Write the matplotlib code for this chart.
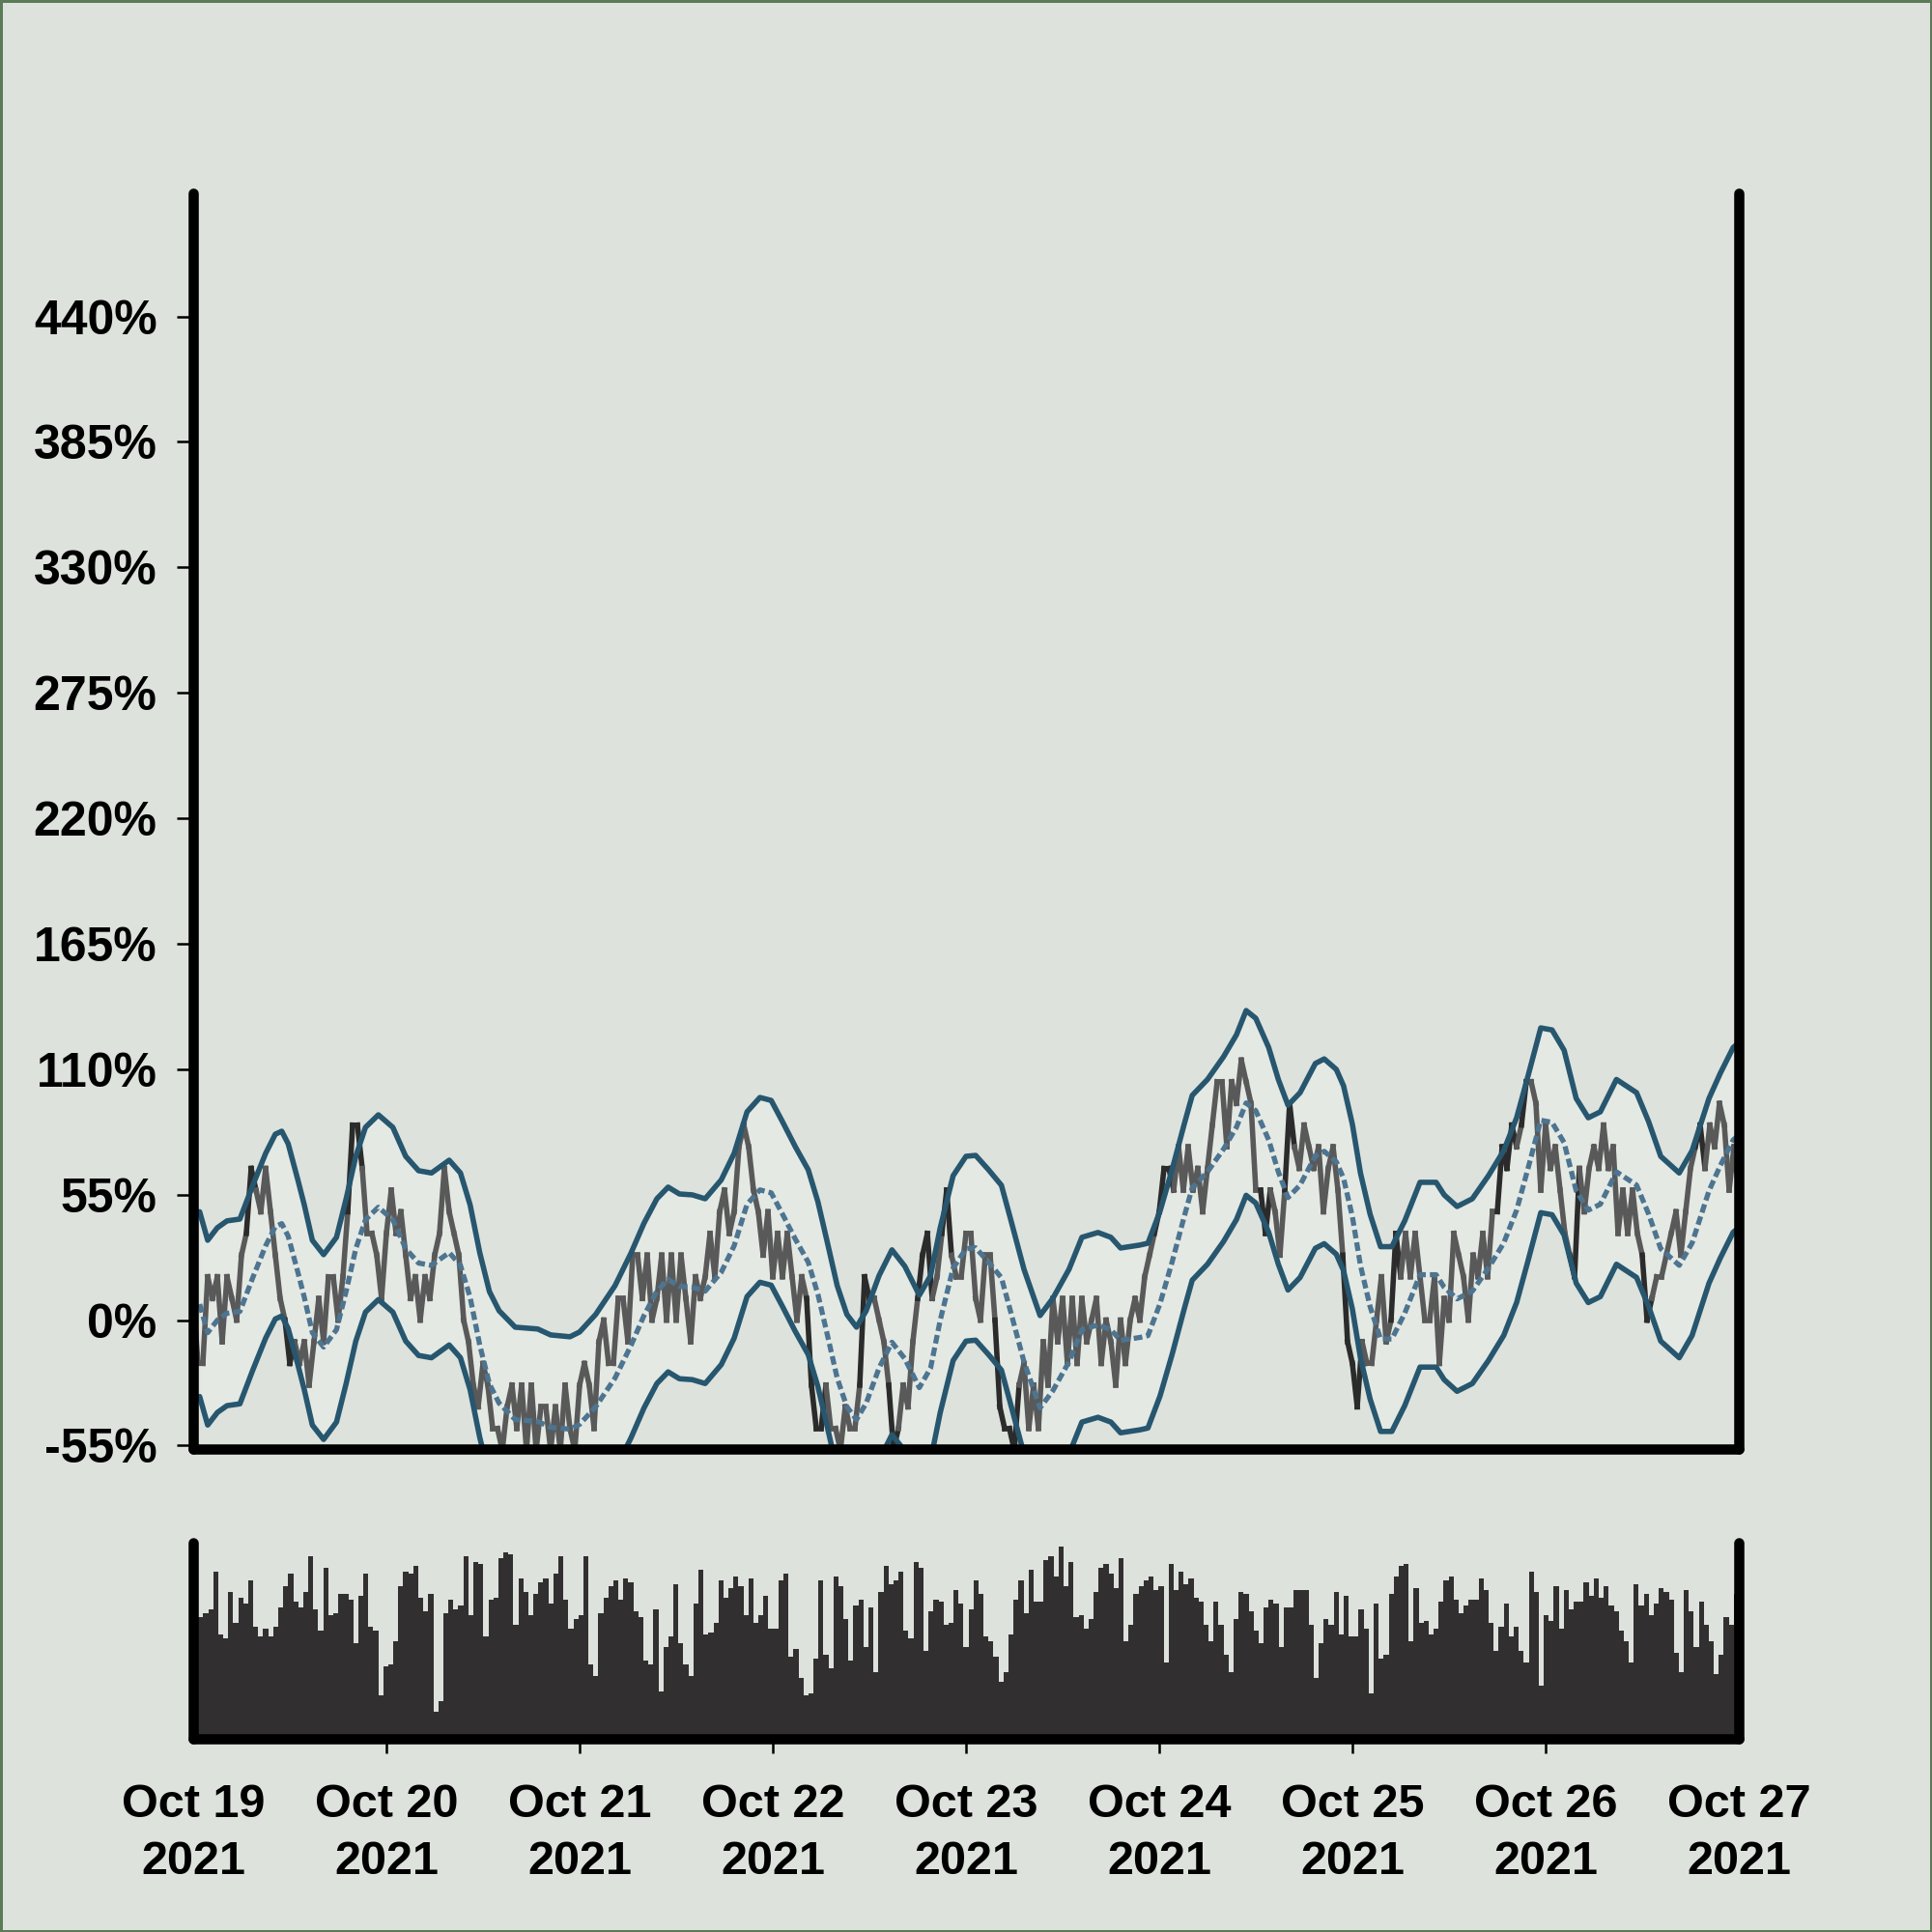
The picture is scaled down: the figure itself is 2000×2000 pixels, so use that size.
import numpy as np
import pandas as pd
import matplotlib
matplotlib.use("Agg")
import matplotlib.pyplot as plt
import matplotlib.dates as mdates
from matplotlib.collections import LineCollection

# ---------------- data ----------------
start_date = "2021-10-19"
end_date = "2021-10-27"

# price (% change), evenly sampled between start and end
price_pct = [
    9.5, -19, -19, 19, 9.5, 19, -9.5, 19, 9.5, 0,
    28.5, 38, 66.5, 57, 47.5, 66.5, 47.5, 28.5, 9.5, 0,
    -19, -9.5, -19, -9.5, -28.5, -9.5, 9.5, -9.5, 19, 19,
    0, 19, 47.5, 85.5, 85.5, 66.5, 38, 38, 28.5, 9.5,
    38, 57, 38, 47.5, 28.5, 9.5, 19, 0, 19, 9.5,
    28.5, 38, 66.5, 47.5, 38, 28.5, 0, -9.5, -28.5, -38,
    -19, -28.5, -47.5, -47.5, -57, -38, -28.5, -47.5, -28.5, -57,
    -28.5, -57, -38, -38, -57, -38, -57, -28.5, -47.5, -57,
    -28.5, -19, -28.5, -47.5, -9.5, 0, -19, -19, 9.5, 9.5,
    -9.5, 28.5, 28.5, 9.5, 28.5, 0, 9.5,
    28.5, 0, 28.5, 0, 28.5, 9.5, -9.5, 19, 9.5, 19,
    38, 19, 47.5, 57, 38, 47.5, 76, 85.5, 76, 57,
    47.5, 28.5, 47.5, 19, 38, 19, 38, 19, 0, 19,
    9.5, -28.5, -47.5, -47.5, -28.5, -47.5, -47.5, -57, -38, -47.5,
    -47.5, -28.5, 19, 9.5, 9.5, 0, -9.5, -28.5, -57, -47.5,
    -28.5, -38, -9.5, 9.5, 28.5, 38, 9.5, 19, 38, 57,
    28.5, 19, 19, 38, 38, 9.5, 0, 28.5, 28.5, 0,
    -38, -47.5, -47.5, -57, -28.5, -19, -47.5, -28.5, -47.5, -9.5,
    -28.5, 9.5, -9.5, 9.5, -19, 9.5, -19, 9.5, -9.5, 0,
    9.5, -19, 0, -9.5, -28.5, 0, -19, 0, 9.5, 0,
    19, 28.5, 38, 47.5, 66.5, 66.5, 57, 76, 57, 76,
    57, 66.5, 47.5, 66.5, 85.5, 104.5, 104.5, 76, 104.5, 95,
    114, 104.5, 95, 57, 57, 38, 57, 47.5, 28.5, 57,
    95, 76, 66.5, 85.5, 76, 66.5, 76, 47.5, 66.5, 76,
    57, 28.5, -9.5, -19, -38, -9.5, -19, -19, 0, 19,
    -9.5, 0, 38, 19, 38, 19, 38, 19, 0, 0,
    19, -19, 9.5, 0, 38, 28.5, 19, 0, 28.5, 19,
    38, 19, 47.5, 47.5, 76, 66.5, 85.5, 76, 85.5, 104.5,
    104.5, 95, 57, 85.5, 66.5, 76, 57, 38, 28.5, 19,
    66.5, 47.5, 66.5, 76, 66.5, 85.5, 66.5, 76, 38, 57,
    38, 57, 38, 28.5, 0, 9.5, 19, 19, 28.5, 38,
    47.5, 28.5, 47.5, 66.5, 76, 85.5, 66.5, 85.5, 76, 95,
    85.5, 57, 76, 57,
]

# middle band (moving average), hours since start -> %
mid_hours = [
    0.8, 1.8, 3.0, 4.2, 5.8, 7.4, 9.0, 10.2, 11.0, 11.8, 13.0, 13.8, 14.8, 16.2,
    17.8, 19.0, 20.2, 21.4, 23.0, 24.8, 26.4, 28.0, 29.6, 31.8, 33.2, 34.4, 35.6,
    36.8, 38.0, 40.0, 42.8, 44.4, 46.8, 48.0, 50.0, 52.4, 54.4, 56.0, 57.6, 59.0,
    60.4, 62.0, 63.6, 65.6, 67.2, 68.8, 70.4, 71.8, 73.2, 74.8, 76.4, 77.6, 78.8,
    80.0, 81.2, 82.4, 83.6, 85.2, 86.8, 88.4, 90.2, 91.6, 92.8, 94.4, 96.0, 97.2,
    98.8, 100.4, 101.6, 103.2, 105.2, 106.8, 108.8, 110.4, 112.4, 114.0, 115.2,
    117.6, 118.6, 120.1, 121.6, 123.1, 124.1, 126.0, 128.0, 129.6, 130.8, 132.0,
    133.6, 134.8, 136.0, 137.5, 139.4, 140.5, 142.0, 142.9, 144.0, 145.0, 146.2,
    147.5, 148.9, 150.5, 152.4, 154.4, 155.4, 157.0, 158.9, 160.9, 162.8, 164.4,
    165.8, 167.4, 168.8, 170.3, 171.8, 173.3, 174.8, 176.8, 179.3, 180.8, 182.3,
    184.6, 186.2, 188.3, 189.7, 191.3, 192.0,
]
mid_pct = [
    7, -5.5, 0, 3, 3.8, 18.6, 32.6, 41, 42.3, 36.8, 21, 10, -5.5, -11.8,
    -4.2, 12.7, 31.3, 44, 49.5, 44, 31.3, 25, 24, 29.6, 24, 10, -11,
    -28, -36.4, -43.6, -44.4, -47, -47.8, -45.7, -38, -25.4, -11, 2, 12.7, 17.8,
    14.8, 14.4, 12.7, 21, 32.6, 50.8, 57.1, 55.8, 46.5, 35.5, 25.4, 11.4, -6.8,
    -25.4, -38, -43.6, -36.4, -21, -9.7, -16.9, -29.6, -21, 0, 22.8, 31.3, 31.7,
    25.4, 18.6, 3, -18.2, -38.5, -30.9, -18.2, -4.2, -2.1, -4.2, -8.9,
    -7.6, -6.8, 7.2, 25.4, 45.3, 58, 65, 75, 84.6, 95.2, 91.8,
    79, 65, 53.7, 59.2, 72, 74, 69.4, 62.2, 45.3, 24, 5.9,
    -8.3, -8.3, 3, 19.9, 19.9, 14.4, 9.3, 12.7, 22.8, 33.8, 48.2,
    66.3, 87.6, 86.7, 77.8, 56.7, 48.2, 50.8, 65, 59.2, 46.5, 31.3,
    24, 33.8, 56.7, 67.7, 79, 81,
]
band_halfwidth_pct = 40.5

# volume (relative units, axis top = 100), evenly sampled
volume = [
    83, 62, 64, 66, 85, 53, 51, 75, 59, 72,
    69, 81, 57, 52, 56, 52, 57, 67, 78, 84,
    70, 67, 75, 93, 66, 55, 87, 63, 64, 74,
    74, 71, 49, 73, 84, 57, 55, 22, 37, 38,
    50, 78, 85, 84, 88, 72, 65, 74, 14, 19,
    64, 71, 66, 68, 93, 63, 90, 89, 52, 71,
    72, 92, 95, 94, 58, 82, 75, 63, 74, 80,
    82, 69, 84, 93, 71, 56, 61, 63, 93, 38,
    32, 64, 72, 78, 81, 71, 82, 80, 65, 62,
    40, 38, 66, 24, 47, 52, 79, 49, 38, 32,
    69, 86, 53, 54, 59, 81, 72, 77, 83, 78,
    63, 82, 59, 63, 73, 56, 56, 81, 84, 42,
    46, 31, 22, 23, 41, 81, 43, 36, 83, 78,
    61, 40, 68, 71, 47, 67, 34,
    75, 88, 79, 81, 85, 55, 51, 90, 87,
    45, 65, 71, 70, 58, 59, 76, 69, 47, 66,
    81, 74, 52, 50, 42, 29, 34, 53, 71, 81,
    64, 86, 70, 70, 91, 93, 83, 98, 78, 90,
    62, 63, 56, 61, 75, 87, 89, 84, 77, 92,
    50, 58, 74, 78, 81, 83, 76, 78, 39, 89,
    76, 85, 79, 82, 72, 70, 58, 50, 70, 58,
    43, 34, 61, 75, 74, 65, 55, 49, 67, 71,
    69, 47, 67, 67, 76, 76, 76, 58, 31, 49,
    61, 58, 75, 53, 73, 52, 52, 66, 56, 23,
    69, 41, 43, 74, 83, 88, 89, 50, 77, 59,
    60, 53, 56, 70, 81, 83, 71, 64, 68, 71,
    71, 82, 76, 59, 45, 57, 69, 52, 57, 45,
    39, 85, 75, 27, 63, 60, 78, 56, 76, 66,
    70, 70, 80, 73, 82, 72, 78, 68, 65, 55,
    50, 39, 79, 68, 74, 63, 69, 77, 75, 71,
    44, 34, 76, 65, 47, 70, 58, 50, 33, 43,
    62, 58, 74,
]

ytick_values = [-55, 0, 55, 110, 165, 220, 275, 330, 385, 440]
ytick_labels = ["-55%", "0%", "55%", "110%", "165%", "220%", "275%", "330%", "385%", "440%"]
xtick_labels = ["Oct 19\n2021", "Oct 20\n2021", "Oct 21\n2021", "Oct 22\n2021",
                "Oct 23\n2021", "Oct 24\n2021", "Oct 25\n2021", "Oct 26\n2021",
                "Oct 27\n2021"]

# ---------------- style ----------------
BG = "#dde2dc"
BAND_FILL = "#e4e9e3"
BORDER = "#5b7a56"
BAND_COLOR = "#27566f"
MID_COLOR = "#4d7490"
PRICE_COLOR = "#595959"
PRICE_OUT_COLOR = "#2b2b2b"
VOL_COLOR = "#322f31"
FONT = "Liberation Sans"
SPINE_W = 3.8

fig = plt.figure(figsize=(10, 10), dpi=200, facecolor=BG,
                 edgecolor=BORDER, linewidth=1.2)
ax = fig.add_axes([0.1, 0.25, 0.8, 0.65])
axv = fig.add_axes([0.1, 0.1, 0.8, 0.1015])
for a in (ax, axv):
    a.set_facecolor(BG)

t0 = pd.Timestamp(start_date)
t1 = pd.Timestamp(end_date)
x0, x1 = mdates.date2num(t0.to_pydatetime()), mdates.date2num(t1.to_pydatetime())

price_t = mdates.date2num(pd.date_range(t0, t1, periods=len(price_pct)).to_pydatetime())
price = np.array(price_pct, dtype=float)
mid_t = np.array([mdates.date2num((t0 + pd.Timedelta(hours=h)).to_pydatetime()) for h in mid_hours])
mid = np.array(mid_pct, dtype=float)
upper = mid + band_halfwidth_pct
lower = mid - band_halfwidth_pct

# band fill
ax.fill_between(mid_t, lower, upper, color=BAND_FILL, lw=0, zorder=1)

# price line, darker where it leaves the band
mid_at_price = np.interp(price_t, mid_t, mid)
outside = (price > mid_at_price + band_halfwidth_pct) | (price < mid_at_price - band_halfwidth_pct)
pts = np.column_stack([price_t, price])
segs = np.stack([pts[:-1], pts[1:]], axis=1)
seg_out = outside[:-1] | outside[1:]
colors = [PRICE_OUT_COLOR if o else PRICE_COLOR for o in seg_out]
lc = LineCollection(segs, colors=colors, linewidths=2.0, zorder=2,
                    capstyle="projecting", joinstyle="miter")
ax.add_collection(lc)

ax.plot(mid_t, upper, color=BAND_COLOR, lw=2.0, zorder=3,
        solid_joinstyle="round", solid_capstyle="round")
ax.plot(mid_t, lower, color=BAND_COLOR, lw=2.0, zorder=3,
        solid_joinstyle="round", solid_capstyle="round")
ax.plot(mid_t, mid, color=MID_COLOR, lw=1.9, ls=(0, (1.7, 0.8)), zorder=3)

ax.set_xlim(x0, x1)
ax.set_ylim(-56.5, 494)

# volume
edges = np.linspace(x0, x1, len(volume) + 1)
axv.bar(edges[:-1], volume, width=edges[1] - edges[0], align="edge",
        color=VOL_COLOR, linewidth=0, zorder=2)
axv.set_xlim(x0, x1)
axv.set_ylim(0, 100)
axv.set_yticks([])

# spines
for a in (ax, axv):
    a.spines["top"].set_visible(False)
    for s in ("left", "right", "bottom"):
        a.spines[s].set_linewidth(SPINE_W)
        a.spines[s].set_color("black")
        a.spines[s].set_capstyle("round")
        a.spines[s].set_zorder(5)

# ticks
ax.set_yticks(ytick_values)
ax.set_yticklabels(ytick_labels, fontsize=18, fontweight="bold", family=FONT)
ax.tick_params(axis="y", length=6, width=0.9, pad=7.5, color="black")
ax.tick_params(axis="x", bottom=False, labelbottom=False)

day_ticks = mdates.date2num(pd.date_range(t0, t1, freq="D").to_pydatetime())
axv.set_xticks(day_ticks)
axv.set_xticklabels(xtick_labels, fontsize=17.5, fontweight="bold", family=FONT,
                    linespacing=1.4)
axv.tick_params(axis="x", length=5.5, width=0.9, pad=11, color="black")
mt = axv.xaxis.get_major_ticks()
mt[0].tick1line.set_visible(False)
mt[-1].tick1line.set_visible(False)

fig.savefig("out.png", dpi=200, facecolor=fig.get_facecolor(), edgecolor=BORDER)
